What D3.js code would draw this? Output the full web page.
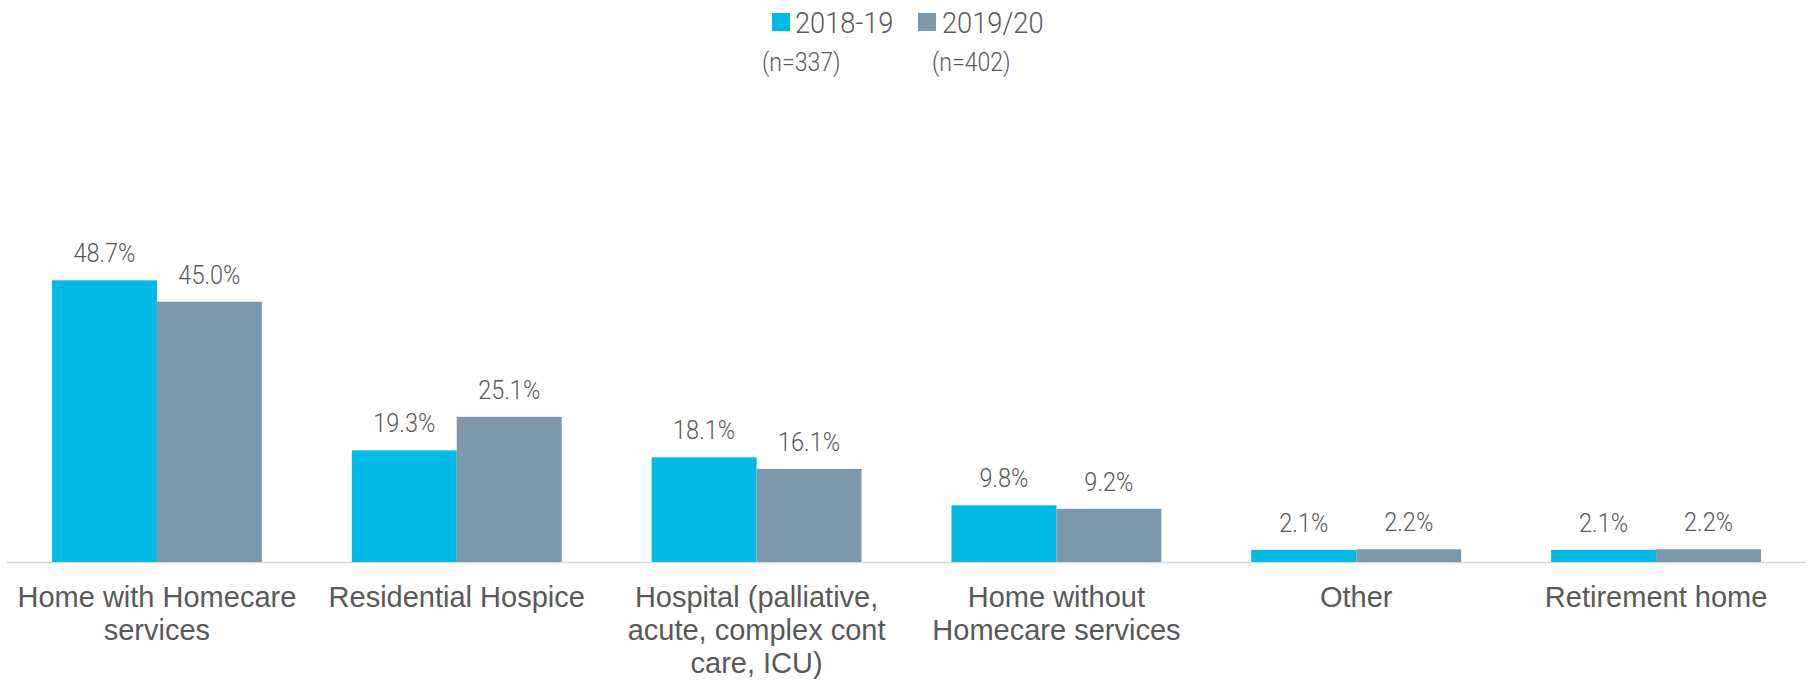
<!DOCTYPE html>
<html>
<head>
<meta charset="utf-8">
<script src="https://cdn.jsdelivr.net/npm/d3@7"></script>
<style>
  html, body { margin: 0; padding: 0; background: #ffffff; }
  svg { display: block; }
</style>
</head>
<body>
<svg id="chart" width="1812" height="681"></svg>
<script>
// Place of death, share of patients by year
const categories = [
  "Home with Homecare services",
  "Residential Hospice",
  "Hospital (palliative, acute, complex cont care, ICU)",
  "Home without Homecare services",
  "Other",
  "Retirement home"
];
const seriesNames = ["2018-19", "2019/20"];
const seriesCounts = ["(n=337)", "(n=402)"];
const values2018 = [48.7, 19.3, 18.1, 9.8, 2.1, 2.1];
const values2019 = [45.0, 25.1, 16.1, 9.2, 2.2, 2.2];
const colors = ["#00B9E4", "#7C98AA"];

const baseY = 562;
const lightFont = "Roboto, 'Liberation Sans', sans-serif";
const regular = "'Liberation Sans', Arial, sans-serif";
const textColor = "#595959";
const condense = 0.94;   // horizontal squeeze for value and legend labels
const condenseN = 0.885; // squeeze for the sample-size notes

const svg = d3.select("#chart");

const x = d3.scaleBand()
  .domain(categories)
  .range([7, 1806])
  .paddingInner(0.3)
  .paddingOuter(0.15);

const xSub = d3.scaleBand()
  .domain(seriesNames)
  .range([0, x.bandwidth()]);

const y = d3.scaleLinear()
  .domain([0, 60])
  .range([baseY, 215]);

const rows = categories.map((c, i) => ({
  category: c,
  items: [
    { series: seriesNames[0], value: values2018[i], color: colors[0] },
    { series: seriesNames[1], value: values2019[i], color: colors[1] }
  ]
}));

// baseline axis
svg.append("line")
  .attr("x1", 7).attr("x2", 1806)
  .attr("y1", baseY + 0.5).attr("y2", baseY + 0.5)
  .attr("stroke", "#D9D9D9")
  .attr("stroke-width", 1.5);

const groups = svg.selectAll("g.group")
  .data(rows)
  .join("g")
  .attr("class", "group")
  .attr("transform", d => `translate(${x(d.category)},0)`);

groups.selectAll("rect")
  .data(d => d.items)
  .join("rect")
  .attr("x", d => xSub(d.series))
  .attr("y", d => y(d.value))
  .attr("width", xSub.bandwidth())
  .attr("height", d => baseY - y(d.value))
  .attr("fill", d => d.color);

groups.selectAll("text.value")
  .data(d => d.items)
  .join("text")
  .attr("class", "value")
  .attr("transform", d =>
    `translate(${xSub(d.series) + xSub.bandwidth() / 2},${y(d.value) - 18}) scale(${condense},1)`)
  .attr("text-anchor", "middle")
  .attr("font-family", lightFont)
  .attr("font-weight", 300)
  .attr("font-size", 25)
  .attr("fill", textColor)
  .text(d => d.value.toFixed(1) + "%");

// category labels, wrapped to the band width
const axis = d3.axisBottom(x).tickSize(0).tickPadding(0);
const axisG = svg.append("g")
  .attr("transform", `translate(0,${baseY})`)
  .call(axis);
axisG.select(".domain").remove();
axisG.selectAll(".tick text")
  .attr("font-family", regular)
  .attr("font-size", 29)
  .attr("fill", textColor)
  .attr("y", 0)
  .attr("dy", 0)
  .each(function(d) {
    const t = d3.select(this);
    const words = d.split(" ");
    t.text(null);
    const lines = [];
    let line = [];
    const probe = t.append("tspan");
    words.forEach(w => {
      line.push(w);
      probe.text(line.join(" "));
      if (probe.node().getComputedTextLength() > 292 && line.length > 1) {
        line.pop();
        lines.push(line.join(" "));
        line = [w];
      }
    });
    lines.push(line.join(" "));
    probe.remove();
    lines.forEach((l, i) => {
      t.append("tspan")
        .attr("x", 0)
        .attr("y", 45 + i * 33)
        .text(l);
    });
  });

// legend
const legendSpec = [
  { sq: 772, tx: 795, nx: 762 },
  { sq: 918, tx: 942, nx: 932 }
];
const legend = svg.append("g");
seriesNames.forEach((name, i) => {
  const p = legendSpec[i];
  legend.append("rect")
    .attr("x", p.sq).attr("y", 13)
    .attr("width", 18).attr("height", 18)
    .attr("fill", colors[i]);
  legend.append("text")
    .attr("transform", `translate(${p.tx},33) scale(${condense},1)`)
    .attr("font-family", lightFont)
    .attr("font-weight", 300)
    .attr("font-size", 29)
    .attr("fill", textColor)
    .text(name);
  legend.append("text")
    .attr("transform", `translate(${p.nx},71) scale(${condenseN},1)`)
    .attr("font-family", lightFont)
    .attr("font-weight", 300)
    .attr("font-size", 26)
    .attr("fill", textColor)
    .text(seriesCounts[i]);
});
</script>
</body>
</html>
